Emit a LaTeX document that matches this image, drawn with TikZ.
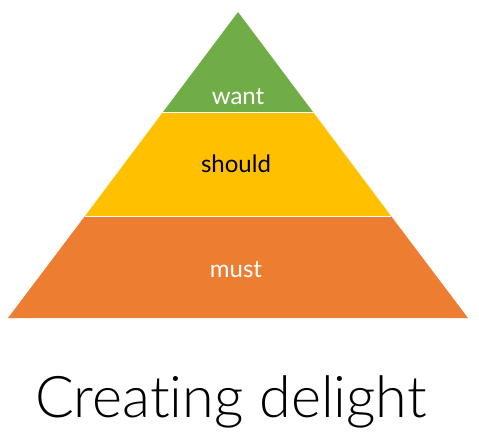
\documentclass[tikz,border=0pt]{standalone}
\usepackage{fontspec}
\setmainfont{Lato}
\newfontfamily\lightfont[Ligatures={NoCommon,NoRequired,NoContextual}]{Lato Light}
\definecolor{pgreen}{HTML}{70AD47}
\definecolor{pyellow}{HTML}{FFC000}
\definecolor{porange}{HTML}{ED7D31}
\begin{document}
\begin{tikzpicture}[x=1pt,y=-1pt,
  lbl/.style={font=\fontsize{24}{28}\selectfont,inner sep=0pt}]
\useasboundingbox (0,0) rectangle (479,439);
\coordinate (apex) at (238,12);
\coordinate (gl) at (163,112);
\coordinate (gr) at (313,112);
\coordinate (yl) at (85,216);
\coordinate (yr) at (391,216);
\coordinate (bl) at (8,318);
\coordinate (br) at (468,318);
\fill[porange] (yl) -- (yr) -- (br) -- (bl) -- cycle;
\fill[pyellow] (gl) -- (gr) -- (yr) -- (yl) -- cycle;
\fill[pgreen] (apex) -- (gr) -- (gl) -- cycle;
\draw[white,line width=1pt] (gl) -- (gr);
\draw[white,line width=1pt] (yl) -- (yr);
\node[lbl,text=white,anchor=base] (want) at (238,104) {want};
\node[lbl,text=black,anchor=base] (should) at (236,172) {should};
\node[lbl,text=white,anchor=base] (must) at (236,277) {must};
\node[font=\lightfont\fontsize{57.5}{66}\selectfont,inner sep=0pt,anchor=base] (title) at (231,417) {Creating delight};
\end{tikzpicture}
\end{document}
